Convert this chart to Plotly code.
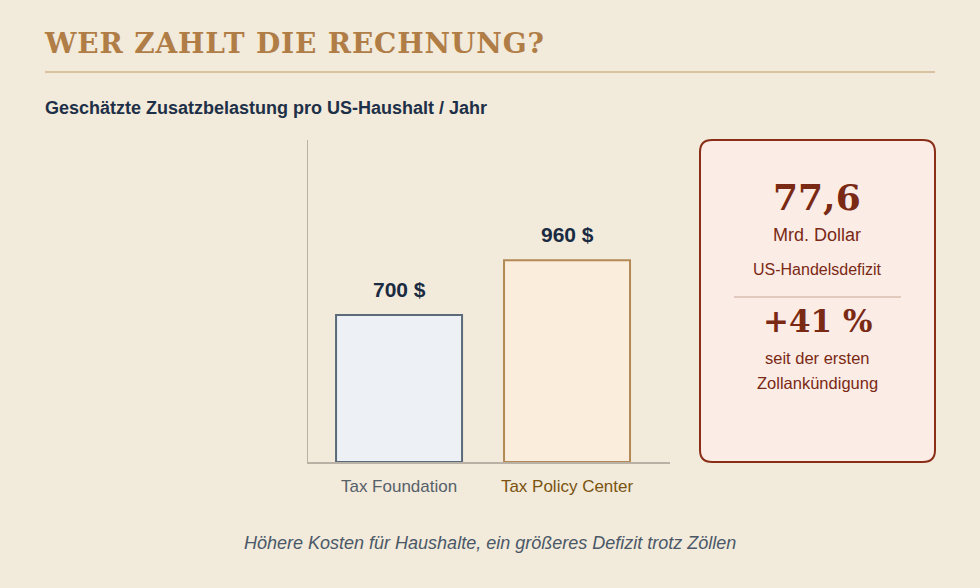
import plotly.graph_objects as go

categories = ["Tax Foundation", "Tax Policy Center"]
values = [700, 960]
bar_fills = ["#edf0f5", "#fbeddb"]
bar_lines = ["#5b6b79", "#b38a55"]
tick_colors = ["#56606b", "#7a5410"]

W, H = 980, 588
BG = "#f2eada"

def px(x):
    return x / W

def py(y):
    return 1 - y / H

fig = go.Figure()
fig.add_trace(go.Bar(
    x=categories, y=values, width=0.75,
    marker=dict(color=bar_fills, line=dict(color=bar_lines, width=2)),
    hoverinfo="skip",
))

# value labels
for c, v in zip(categories, values):
    fig.add_annotation(x=c, y=v, xref="x", yref="y", text=f"<b>{v} $</b>",
                       showarrow=False, yanchor="bottom", yshift=12,
                       font=dict(family="Liberation Sans", size=21, color="#1a2b42"))

sans = "Liberation Sans"
serif = "DejaVu Serif"

annotations = [
    dict(x=px(42), y=py(43), text="<span style='letter-spacing:0.85px'><b>WER ZAHLT DIE RECHNUNG?</b></span>", xanchor="left", yanchor="middle",
         font=dict(family=serif, size=28, color="#b07d47")),
    dict(x=px(43), y=py(108), text="<b>Geschätzte Zusatzbelastung pro US-Haushalt / Jahr</b>", xanchor="left", yanchor="middle",
         font=dict(family=sans, size=18, color="#1e3048")),
    dict(x=px(817), y=py(197), text="<b>77,6</b>", xanchor="center", yanchor="middle",
         font=dict(family=serif, size=36, color="#7a2914")),
    dict(x=px(817), y=py(235), text="Mrd. Dollar", xanchor="center", yanchor="middle",
         font=dict(family=sans, size=18, color="#7a2914")),
    dict(x=px(817), y=py(269), text="US-Handelsdefizit", xanchor="center", yanchor="middle",
         font=dict(family=sans, size=16, color="#7a2914")),
    dict(x=px(817), y=py(321), text="<b>+41 %</b>", xanchor="center", yanchor="middle",
         font=dict(family=serif, size=31, color="#7a2914")),
    dict(x=px(817), y=py(358), text="seit der ersten", xanchor="center", yanchor="middle",
         font=dict(family=sans, size=16.5, color="#7a2914")),
    dict(x=px(817), y=py(383), text="Zollankündigung", xanchor="center", yanchor="middle",
         font=dict(family=sans, size=16.5, color="#7a2914")),
    dict(x=px(490), y=py(543), text="<i>Höhere Kosten für Haushalte, ein größeres Defizit trotz Zöllen</i>",
         xanchor="center", yanchor="middle",
         font=dict(family=sans, size=18, color="#4a5868")),
]
for a in annotations:
    fig.add_annotation(xref="paper", yref="paper", showarrow=False, **a)

# rounded box
x0, x1, y0, y1, r = px(700), px(935), py(462), py(140), 12
rx, ry = r / W, r / H
path = (f"M {x0+rx},{y1} L {x1-rx},{y1} Q {x1},{y1} {x1},{y1-ry} "
        f"L {x1},{y0+ry} Q {x1},{y0} {x1-rx},{y0} L {x0+rx},{y0} Q {x0},{y0} {x0},{y0+ry} "
        f"L {x0},{y1-ry} Q {x0},{y1} {x0+rx},{y1} Z")
fig.add_shape(type="path", path=path, xref="paper", yref="paper",
              fillcolor="#fbece6", line=dict(color="#8a2e17", width=2), layer="below")
fig.add_shape(type="line", xref="paper", yref="paper", x0=px(734), x1=px(901), y0=py(297), y1=py(297),
              line=dict(color="#c9a898", width=1))
fig.add_shape(type="line", xref="paper", yref="paper", x0=px(45), x1=px(935), y0=py(72), y1=py(72),
              line=dict(color="#c09a68", width=1))

ticktext = [f"<span style='color:{col}'>{c}</span>" for c, col in zip(categories, tick_colors)]

fig.update_layout(
    width=W, height=H, margin=dict(l=0, r=0, t=0, b=0),
    paper_bgcolor=BG, plot_bgcolor=BG, showlegend=False,
    xaxis=dict(domain=[px(308), px(670)], range=[-0.542, 1.613], showgrid=False,
               showline=True, linecolor="#b9b1a6", linewidth=2, ticks="",
               tickmode="array", tickvals=categories, ticktext=ticktext, ticklabelstandoff=8,
               tickfont=dict(family=sans, size=17), fixedrange=True),
    yaxis=dict(domain=[py(462), py(140)], range=[0, 1533], showgrid=False, zeroline=False,
               showline=True, linecolor="#b9b1a6", linewidth=1, showticklabels=False, ticks="",
               fixedrange=True),
)

fig.write_html("out.html", config={"displayModeBar": False})
